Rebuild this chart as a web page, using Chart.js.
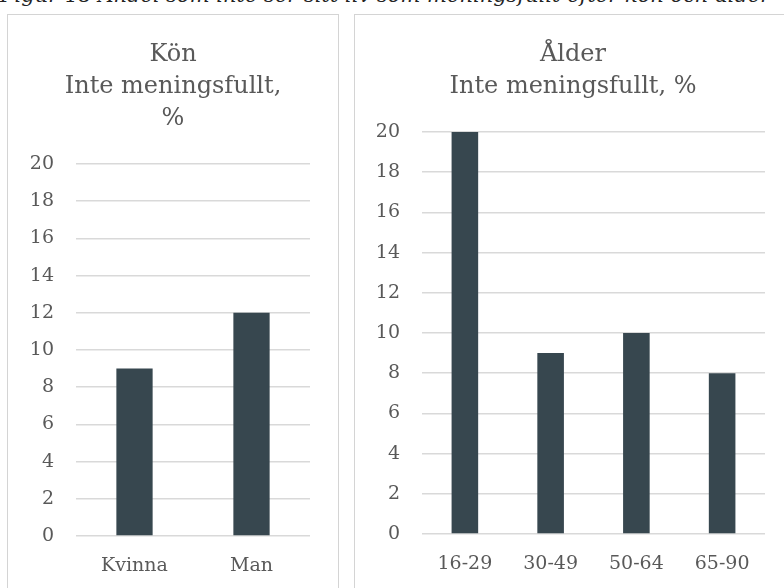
<!DOCTYPE html>
<html lang="sv">
<head>
<meta charset="utf-8">
<script src="https://cdn.jsdelivr.net/npm/chart.js@4"></script>
<style>
  html, body { margin: 0; padding: 0; background: #fff; overflow: hidden; }
  body { width: 784px; height: 588px; position: relative; font-family: "DejaVu Serif", serif; }
  #caption {
    position: absolute; left: 0; top: -17px; white-space: nowrap;
    font-style: italic; font-size: 21px; color: #222;
  }
  .panel {
    position: absolute; top: 14px; height: 600px;
    border: 1px solid #d4d4d4; background: #fff;
  }
  #leftPanel { left: 7px; width: 330px; }
  #rightPanel { left: 354px; width: 440px; }
  .panel canvas { position: absolute; left: 0; top: 0; }
</style>
</head>
<body>
<div id="caption">Figur 18 Andel som inte ser sitt liv som meningsfullt efter kön och ålder</div>
<div class="panel" id="leftPanel"><canvas id="konChart" width="330" height="573"></canvas></div>
<div class="panel" id="rightPanel"><canvas id="alderChart" width="436" height="573"></canvas></div>

<script>
// DATA
const konLabels = ["Kvinna", "Man"];
const konValues = [9, 12];
const alderLabels = ["16-29", "30-49", "50-64", "65-90"];
const alderValues = [20, 9, 10, 8];
const yMin = 0;
const yMax = 20;
const yStep = 2;

// STYLE
const barColor = "#37474f";
const textColor = "#595959";
const gridColor = "#d9d9d9";
const fontFamily = "'DejaVu Serif', serif";

// BUILD ONE PANEL
// an empty right axis keeps the plot narrow while the title stays centred on the whole panel
function makeChart(canvasId, titleLines, labels, values, yAxisWidth, xAxisHeight, rightPad) {
    return new Chart(document.getElementById(canvasId), {
        type: "bar",
        data: {
            labels: labels,
            datasets: [{
                data: values,
                backgroundColor: barColor,
                borderWidth: 0,
                categoryPercentage: 1,
                barPercentage: 0.31
            }]
        },
        options: {
            responsive: false,
            animation: false,
            events: [],
            layout: { padding: 0 },
            plugins: {
                legend: { display: false },
                tooltip: { enabled: false },
                title: {
                    display: true,
                    text: titleLines,
                    color: textColor,
                    font: { family: fontFamily, size: 24, weight: "normal", lineHeight: 1.333 },
                    padding: { top: 24, bottom: 29 }
                }
            },
            scales: {
                x: {
                    grid: { display: false, drawTicks: false },
                    border: { display: false },
                    ticks: { color: textColor, padding: 19, font: { family: fontFamily, size: 19 } },
                    afterFit: scale => { scale.height = xAxisHeight; }
                },
                y: {
                    min: yMin,
                    max: yMax,
                    ticks: { stepSize: yStep, color: textColor, padding: 22, font: { family: fontFamily, size: 19 } },
                    grid: { color: gridColor, lineWidth: 1.5, drawTicks: false },
                    border: { display: false },
                    afterFit: scale => { scale.width = yAxisWidth; }
                },
                yRight: {
                    position: "right",
                    min: yMin,
                    max: yMax,
                    grid: { display: false, drawTicks: false },
                    border: { display: false },
                    ticks: { display: false },
                    afterFit: scale => { scale.width = rightPad; }
                }
            }
        }
    });
}

// RENDER
makeChart("konChart", ["Kön", "Inte meningsfullt,", "%"], konLabels, konValues, 68, 52, 28);
makeChart("alderChart", ["Ålder", "Inte meningsfullt, %"], alderLabels, alderValues, 67, 54, 26);
</script>
</body>
</html>
